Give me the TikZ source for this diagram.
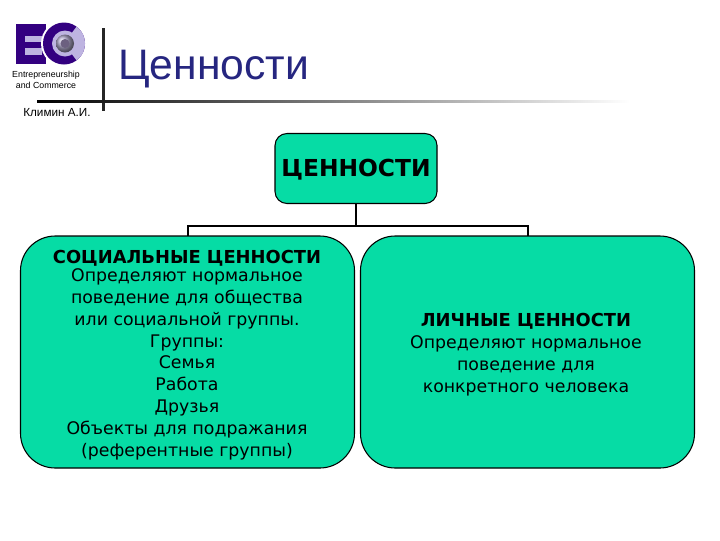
\documentclass[tikz,border=0pt]{standalone}
\usepackage{fontspec}
\setmainfont{DejaVu Sans}
\newfontfamily\lib{Liberation Sans}
\definecolor{teal1}{RGB}{6,220,165}
\definecolor{navy1}{RGB}{38,38,128}
\definecolor{purp}{RGB}{51,0,128}
\definecolor{lilac}{RGB}{190,180,225}
\tikzset{
 x=0.75pt,y=-0.75pt,
 boxstyle/.style={draw=black,line width=0.8pt,fill=teal1,inner sep=0pt},
 topbox/.style={boxstyle,rounded corners=9pt,minimum width=121.5pt,minimum height=52.5pt},
 bigbox/.style={boxstyle,rounded corners=26pt,minimum width=250.5pt,minimum height=174pt},
 conn/.style={draw=black,line width=1.5pt},
 lbl/.style={inner sep=0pt,align=center},
 bodytext/.style={lbl,font=\fontsize{13pt}{16.45pt}\selectfont}
}
\newcommand{\hd}[1]{{\bfseries\fontsize{13.4pt}{16.45pt}\selectfont #1}}
\begin{document}
\begin{tikzpicture}
\useasboundingbox (0,0) rectangle (720,540);
% logo
\fill[purp] (16,23.5) rectangle (46,63.5);
\fill[lilac] (25,36) rectangle (42,42);
\fill[lilac] (25,48) rectangle (42,55);
\fill[white] (64,43.5) circle (23);
\fill[purp] (64,43.5) circle (21);
\begin{scope}
\clip (64,43.5) circle (21);
\fill[lilac] (64,43.5) -- (80,22) -- (90,22) -- (90,65) -- (80,65) -- cycle;
\end{scope}
\fill[lilac] (65,43.5) circle (13);
\shade[ball color=lilac!75!gray] (65,43.5) circle (9);
\fill[gray!75!purp] (65,43.5) circle (4.5);
\node[lbl,font=\lib\fontsize{6.6pt}{8pt}\selectfont] (logotext) at (46,80) {Entrepreneurship\\and Commerce};
% rules
\fill[black!85] (102,28) rectangle (105,111);
\shade[left color=black,right color=white] (37,100) rectangle (630,102.5);
% title
\node[lbl,font=\lib\fontsize{32pt}{36pt}\selectfont,text=navy1,anchor=west] (title) at (118,69) {Ценности};
\node[lbl,font=\lib\fontsize{8.8pt}{10pt}\selectfont] (author) at (57,113) {Климин А.И.};
% boxes
\node[topbox] (topb) at (356,168.5) {};
\node[bigbox] (lb) at (187.5,352) {};
\node[bigbox] (rb) at (527.5,352) {};
\coordinate (jn) at (topb.south |- 0,226);
\draw[conn] (topb.south) -- (jn);
\draw[conn,line cap=rect] (lb.north) -- (lb.north |- jn) -- (rb.north |- jn) -- (rb.north);
\node[lbl,font=\bfseries\fontsize{14.6pt}{18pt}\selectfont,scale=1.2] (top) at (356,170) {ЦЕННОСТИ};
\node[bodytext] (left) at (187,355.5) {\hd{СОЦИАЛЬНЫЕ ЦЕННОСТИ}\\[-3.5pt]Определяют нормальное\\поведение для общества\\или социальной группы.\\Группы:\\Семья\\Работа\\Друзья\\Объекты для подражания\\(референтные группы)};
\node[bodytext] (right) at (526,354.5) {\hd{ЛИЧНЫЕ ЦЕННОСТИ}\\Определяют нормальное\\поведение для\\конкретного человека};
\end{tikzpicture}
\end{document}
